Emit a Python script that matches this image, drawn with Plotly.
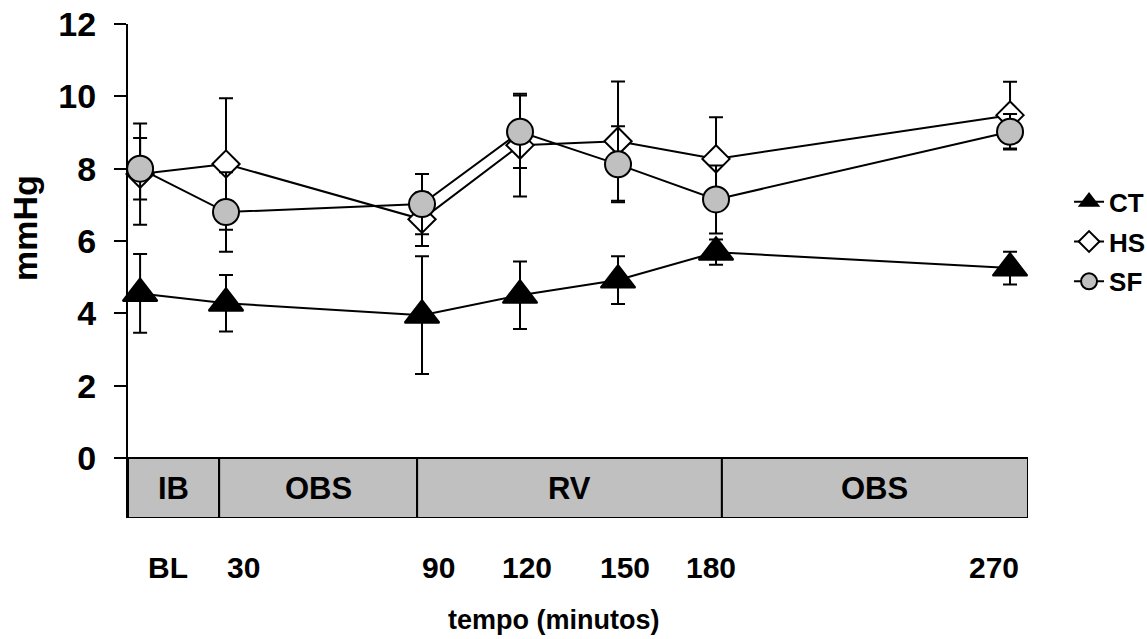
import plotly.graph_objects as go

# ---- data ----
time_pos = [3.7, 30, 90, 120, 150, 180, 270]          # x positions (minutes scale)
tick_text = ["BL", "30", "90", "120", "150", "180", "270"]
tick_label_pos = [12.2, 35.4, 94.9, 122.1, 152.1, 178.4, 265.2]

ct = [4.55, 4.28, 3.95, 4.50, 4.92, 5.69, 5.25]
ct_err = [1.09, 0.78, 1.63, 0.93, 0.66, 0.35, 0.45]
hs = [7.85, 8.13, 6.60, 8.65, 8.76, 8.27, 9.48]
hs_err = [1.40, 1.82, 0.74, 1.42, 1.65, 1.15, 0.92]
sf = [8.00, 6.80, 7.02, 9.02, 8.12, 7.15, 9.02]
sf_err = [0.85, 1.10, 0.83, 1.00, 1.05, 0.94, 0.49]

band_labels = ["IB", "OBS", "RV", "OBS"]
band_start = [0.0, 27.9, 88.5, 181.8]
band_end = [27.9, 88.5, 181.8, 275.5]

FONT = "Liberation Sans, Arial, sans-serif"
Y_MIN = -1.659

fig = go.Figure()

def add_series(name, y, err, symbol, size, fill):
    fig.add_trace(go.Scatter(
        x=time_pos, y=y, name=name, legendgroup=name, mode="lines+markers",
        line=dict(color="black", width=2),
        marker=dict(symbol=symbol, size=size, color=fill,
                    line=dict(color="black", width=2)),
        error_y=dict(type="data", array=err, visible=True,
                     color="black", thickness=2, width=7),
        cliponaxis=False,
    ))

add_series("CT", ct, ct_err, "triangle-up", 30, "black")
add_series("HS", hs, hs_err, "diamond", 21, "white")
add_series("SF", sf, sf_err, "circle", 26, "#c0c0c0")

shapes = []
annotations = []
for lab, x0, x1 in zip(band_labels, band_start, band_end):
    shapes.append(dict(type="rect", xref="x", yref="y", x0=x0, x1=x1,
                       y0=Y_MIN, y1=0, fillcolor="#c0c0c0",
                       line=dict(color="black", width=2), layer="above"))
    annotations.append(dict(x=(x0 + x1) / 2, y=Y_MIN / 2, xref="x", yref="y",
                            text=lab, showarrow=False,
                            font=dict(family=FONT, size=31, color="black", weight="bold")))

for pos, txt in zip(tick_label_pos, tick_text):
    annotations.append(dict(x=pos, y=0, xref="x", yref="paper", text=txt,
                            showarrow=False, yanchor="middle", yshift=-49,
                            font=dict(family=FONT, size=30, color="black", weight="bold")))

annotations.append(dict(x=0.473, y=0, xref="paper", yref="paper",
                        text="tempo (minutos)", showarrow=False,
                        yanchor="middle", yshift=-102,
                        font=dict(family=FONT, size=27, color="black", weight="bold")))
annotations.append(dict(x=0, y=(12 - 228 / 36.17 + 24 / 36.17 - Y_MIN) / (12 - Y_MIN),
                        xref="paper", yref="paper", text="mmHg", textangle=-90,
                        showarrow=False, xanchor="center", yanchor="middle", xshift=-103,
                        font=dict(family=FONT, size=34, color="black", weight="bold")))

fig.update_layout(
    width=1147, height=639,
    margin=dict(l=128, r=119, t=24, b=121, autoexpand=False),
    paper_bgcolor="white", plot_bgcolor="white",
    showlegend=True,
    legend=dict(x=1.0456, y=0.559, xanchor="left", yanchor="middle",
                bgcolor="rgba(0,0,0,0)", tracegroupgap=3,
                font=dict(family=FONT, size=26, color="black", weight="bold")),
    shapes=shapes, annotations=annotations,
    xaxis=dict(range=[0, 275.5], showgrid=False, zeroline=False,
               showline=False, showticklabels=False, ticks="", automargin=False),
    yaxis=dict(range=[Y_MIN, 12], tickvals=[0, 2, 4, 6, 8, 10, 12],
               showgrid=False, zeroline=False, showline=True, automargin=False,
               linecolor="black", linewidth=2,
               ticks="outside", ticklen=12, tickwidth=2, tickcolor="black",
               ticklabelstandoff=11,
               tickfont=dict(family=FONT, size=34, color="black", weight="bold")),
)

fig.write_html("out.html", config={"displayModeBar": False},
               post_script="document.body.style.margin='0';")
